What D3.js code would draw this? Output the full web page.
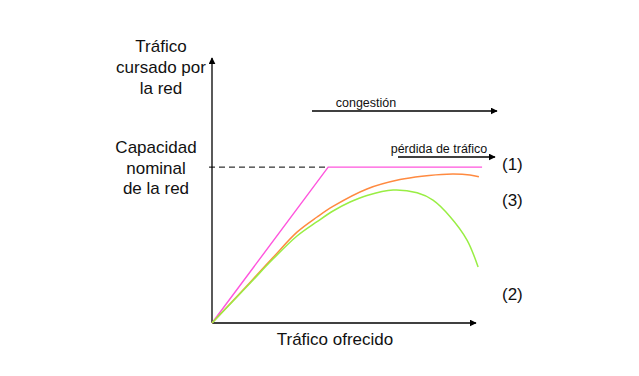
<!DOCTYPE html>
<meta charset="utf-8">
<html>
<head>
    <title>Tráfico cursado vs. tráfico ofrecido</title>
    <script src="https://cdn.jsdelivr.net/npm/d3@7"></script>
</head>
<style>
    body { margin: 0; background: #fff; }
    svg { width: 639px; height: 376px; display: block; }
    text { font-family: "Liberation Sans", Arial, sans-serif; fill: #111; }
    .big { font-size: 17px; }
    .small { font-size: 12.5px; }
</style>
<body>
<svg></svg>
<script>
    // offered traffic (x) vs carried traffic (y), capacity = 100
    const capacity = 100
    const ideal_x = [0, 44, 102.3]
    const ideal_y = [0, 100, 100]
    const orange_x = [0, 14.4, 23.1, 32.2, 39.8, 45.8, 58.7, 71.2, 79.5, 89.0, 97.7, 101.1]
    const orange_y = [0, 26, 42, 58.3, 68, 74.8, 86, 92, 94.2, 95.5, 95, 93.8]
    const green_x = [0, 14.4, 23.1, 32.2, 39.8, 46, 52.3, 58.7, 68.6, 77.7, 83.7, 90.2, 96.6, 100.8]
    const green_y = [0, 25.5, 41, 55.8, 65, 72, 77.6, 81.8, 85.3, 83.5, 78.8, 68.2, 53.2, 35.9]
    const curve_labels = ["(1)", "(3)", "(2)"]
    const label_y = [101.9, 78.8, 18.6]

    const svg = d3.select("svg")

    const x = d3.scaleLinear().domain([0, 100]).range([212, 476])
    const y = d3.scaleLinear().domain([0, 170]).range([323, 58])

    // arrow marker
    svg.append("defs").append("marker")
        .attr("id", "arr")
        .attr("viewBox", "0 0 10 10")
        .attr("refX", 9).attr("refY", 5)
        .attr("markerWidth", 7).attr("markerHeight", 7)
        .attr("markerUnits", "userSpaceOnUse")
        .attr("orient", "auto")
        .append("path").attr("d", "M0,0 L10,5 L0,10 z").attr("fill", "#000")

    // axes
    svg.append("line")
        .attr("x1", x(0)).attr("y1", y(0)).attr("x2", x(0)).attr("y2", y(170))
        .attr("stroke", "#000").attr("stroke-width", 1.3).attr("marker-end", "url(#arr)")
    svg.append("line")
        .attr("x1", x(0)).attr("y1", y(0)).attr("x2", x(100)).attr("y2", y(0))
        .attr("stroke", "#000").attr("stroke-width", 1.3).attr("marker-end", "url(#arr)")

    // nominal capacity dashed line
    svg.append("line")
        .attr("x1", x(0) - 3).attr("y1", y(capacity)).attr("x2", x(44)).attr("y2", y(capacity))
        .attr("stroke", "#000").attr("stroke-dasharray", "6,4")

    const line = d3.line().x(d => x(d[0])).y(d => y(d[1]))
    const smooth = d3.line().x(d => x(d[0])).y(d => y(d[1])).curve(d3.curveCatmullRom)

    svg.append("path")
        .attr("d", line(d3.zip(ideal_x, ideal_y)))
        .attr("fill", "none").attr("stroke", "#ff55dd").attr("stroke-width", 1.4)
    svg.append("path")
        .attr("d", smooth(d3.zip(orange_x, orange_y)))
        .attr("fill", "none").attr("stroke", "#ff8a40").attr("stroke-width", 1.5)
    svg.append("path")
        .attr("d", smooth(d3.zip(green_x, green_y)))
        .attr("fill", "none").attr("stroke", "#99ee44").attr("stroke-width", 1.5)

    // curve numbers
    svg.selectAll(".lab")
        .data(curve_labels)
        .enter()
        .append("text")
        .attr("class", "big")
        .attr("x", 502)
        .attr("y", (d, i) => y(label_y[i]))
        .attr("dy", "0.36em")
        .text(d => d)

    // congestion / traffic loss arrows
    svg.append("line")
        .attr("x1", 312).attr("y1", 111).attr("x2", 497).attr("y2", 111)
        .attr("stroke", "#000").attr("stroke-width", 1.3).attr("marker-end", "url(#arr)")
    svg.append("text").attr("class", "small")
        .attr("x", 366).attr("y", 107).attr("text-anchor", "middle").text("congestión")
    svg.append("line")
        .attr("x1", 398).attr("y1", 157).attr("x2", 495).attr("y2", 157)
        .attr("stroke", "#000").attr("stroke-width", 1.3).attr("marker-end", "url(#arr)")
    svg.append("text").attr("class", "small")
        .attr("x", 439).attr("y", 153).attr("text-anchor", "middle").text("pérdida de tráfico")

    // axis titles
    const ytitle = ["Tráfico", "cursado por", "la red"]
    svg.selectAll(".yt").data(ytitle).enter().append("text")
        .attr("class", "big").attr("text-anchor", "middle")
        .attr("x", 161).attr("y", (d, i) => 52 + i * 21).text(d => d)

    const captitle = ["Capacidad", "nominal", "de la red"]
    svg.selectAll(".ct").data(captitle).enter().append("text")
        .attr("class", "big").attr("text-anchor", "middle")
        .attr("x", 156).attr("y", (d, i) => 153 + i * 20.5).text(d => d)

    svg.append("text").attr("class", "big").attr("text-anchor", "middle")
        .attr("x", 335).attr("y", 345).text("Tráfico ofrecido")
</script>
</body>
</html>
